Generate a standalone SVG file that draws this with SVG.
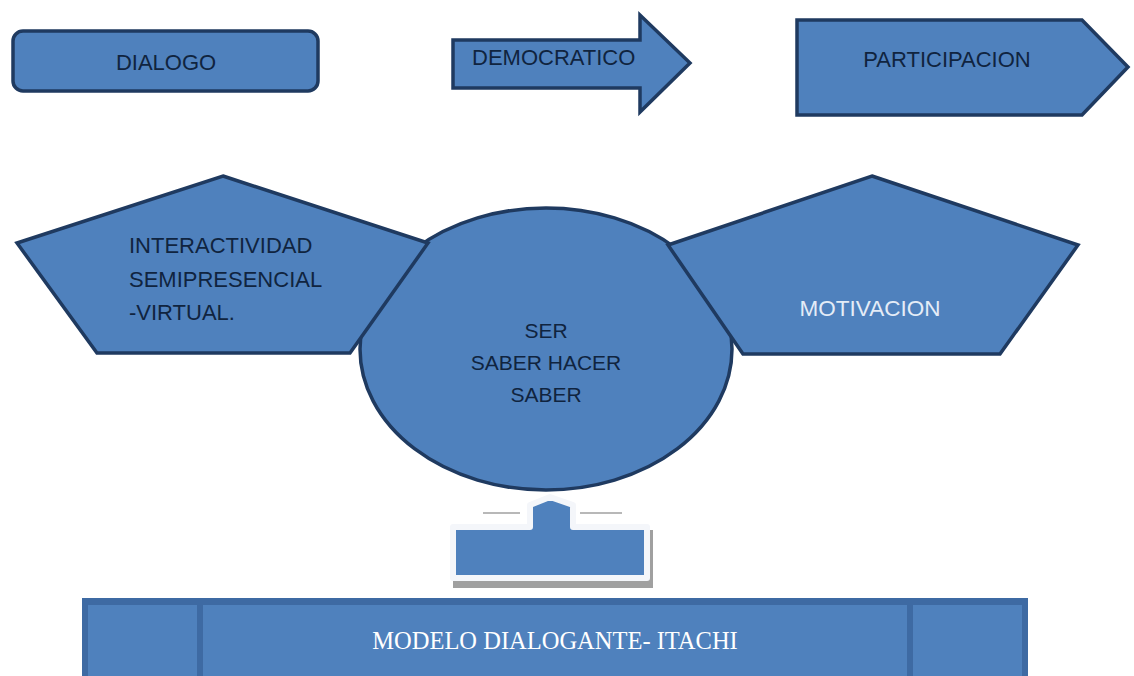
<svg xmlns="http://www.w3.org/2000/svg" width="1134" height="676" viewBox="0 0 1134 676">
<style>
.shape{fill:#4f81bd;stroke:#1f3a60;stroke-width:3.5;stroke-linejoin:miter}
.lbl{font-family:"Liberation Sans",Arial,sans-serif;font-size:22px;fill:#10243f}
.sm{font-size:21px}
.lite{font-family:"Liberation Sans",Arial,sans-serif;font-size:22.5px;fill:#e4ecf7}
.serif{font-family:"Liberation Serif","Times New Roman",serif;font-size:24.5px;fill:#ffffff}
</style>
<rect width="1134" height="676" fill="#ffffff"/>
<g id="dialogo">
<rect class="shape" x="13" y="31" width="305" height="60" rx="10" ry="10"/>
<text class="lbl" x="166" y="70" text-anchor="middle">DIALOGO</text>
</g>
<g id="democratico">
<polygon class="shape" points="453,40 640,40 640,15 690,63 640,112 640,88 453,88"/>
<text class="lbl" x="472" y="65">DEMOCRATICO</text>
</g>
<g id="participacion">
<polygon class="shape" points="797,20 1082,20 1128,67 1082,115 797,115"/>
<text class="lbl" x="947" y="67" text-anchor="middle">PARTICIPACION</text>
</g>
<g id="ser-saber">
<ellipse class="shape" cx="546" cy="349" rx="186" ry="141"/>
<text class="lbl sm" text-anchor="middle"><tspan x="546" y="338">SER</tspan><tspan x="546" y="370">SABER HACER</tspan><tspan x="546" y="402">SABER</tspan></text>
</g>
<g id="interactividad">
<polygon class="shape" points="223,176 428,243 350,353 97,353 17,243"/>
<text class="lbl"><tspan x="129" y="253">INTERACTIVIDAD</tspan><tspan x="129" y="287">SEMIPRESENCIAL</tspan><tspan x="129" y="320">-VIRTUAL.</tspan></text>
</g>
<g id="motivacion">
<polygon class="shape" points="872,176 1078,245 1000,354 743,354 668,245"/>
<text class="lite" x="870" y="316" text-anchor="middle">MOTIVACION</text>
</g>
<g id="connectors">
<g id="up-arrow-callout">
<rect x="453" y="530" width="200" height="58" fill="#a0a0a0"/>
<line x1="483" y1="513" x2="520" y2="513" stroke="#b8b8b8" stroke-width="2"/>
<line x1="580" y1="513" x2="622" y2="513" stroke="#b8b8b8" stroke-width="2"/>
<polygon points="453,527 530,527 530,505 550,497 573,505 573,527 647,527 647,578 453,578" fill="#4f81bd" stroke="#f4f6fa" stroke-width="6" stroke-linejoin="round"/>
</g>
</g>
<g id="modelo-dialogante">
<rect x="82" y="598" width="946" height="84" fill="#3e6aa3"/>
<rect x="88" y="605" width="109" height="77" fill="#4f81bd"/>
<rect x="203" y="605" width="704" height="77" fill="#4f81bd"/>
<rect x="913" y="605" width="109" height="77" fill="#4f81bd"/>
<text class="serif" x="555" y="649" text-anchor="middle">MODELO DIALOGANTE- ITACHI</text>
</g>
</svg>
